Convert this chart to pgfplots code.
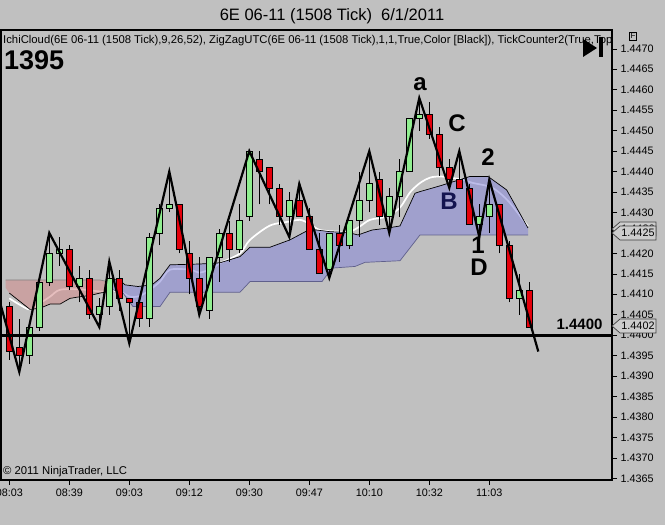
\documentclass[border=0pt]{standalone}
\usepackage{fontspec}
\setmainfont{Liberation Sans}
\usepackage{pgfplots}
\pgfplotsset{compat=1.18}

\definecolor{bg}{RGB}{192,192,192}
\definecolor{cred}{RGB}{228,0,12}
\definecolor{cgreen}{RGB}{144,238,144}
\definecolor{cloudblue}{RGB}{134,134,216}
\definecolor{cloudred}{RGB}{210,138,138}
\definecolor{spanb}{RGB}{96,96,140}
\definecolor{spangray}{RGB}{130,130,130}
\definecolor{navy}{RGB}{20,20,80}
\definecolor{boxgray}{RGB}{205,205,205}

% one candle: index, open, high, low, close
\newcommand\candle[5]{%
  \ifdim#5pt<#2pt \def\cfill{cred}\else\def\cfill{cgreen}\fi
  \pgfmathsetmacro\xl{#1-0.3}\pgfmathsetmacro\xr{#1+0.3}%
  \edef\temp{\noexpand\addplot[black, line width=0.7pt] coordinates {(#1,#4) (#1,#3)};
    \noexpand\addplot[draw=black, line width=0.7pt, fill=\cfill]
      coordinates {(\xl,#2) (\xr,#2) (\xr,#5) (\xl,#5)} -- cycle;}%
  \temp}

\begin{document}
\begin{tikzpicture}[x=1pt,y=1pt]
\fill[bg] (0,0) rectangle (665,525);
\begin{axis}[
    scale only axis,
    width=611pt, height=450pt,
    at={(1pt,45pt)}, anchor=south west,
    xmin=-0.83, xmax=60.27,
    ymin=1.43646, ymax=1.44746,
    axis background/.style={fill=bg},
    axis line style={black, line width=1.2pt},
    tick align=outside,
    major tick length=5pt,
    tick style={black, line width=0.6pt},
    xtick={0,6,12,18,24,30,36,42,48},
    xticklabels={08:03,08:39,09:03,09:12,09:30,09:47,10:10,10:32,11:03},
    xtick pos=bottom,
    ytick={1.4365,1.4370,1.4375,1.4380,1.4385,1.4390,1.4395,1.4400,1.4405,1.4410,1.4415,1.4420,1.4425,1.4430,1.4435,1.4440,1.4445,1.4450,1.4455,1.4460,1.4465,1.4470},
    ytick pos=right,
    yticklabel pos=right,
    /pgf/number format/assume math mode=true,
    yticklabel style={/pgf/number format/fixed, /pgf/number format/fixed zerofill,
      /pgf/number format/precision=4, anchor=west,
      font=\fontsize{10.8}{12}\selectfont},
    xticklabel style={font=\fontsize{10.8}{12}\selectfont},
]

% white line
\addplot[white, line width=1.7pt, smooth] coordinates {
 (0,1.44090) (1.07,1.44074) (2.07,1.44063) (3.07,1.44078) (4.07,1.44094) (5.07,1.44111)
 (7.07,1.44112) (9.07,1.44107) (10.07,1.44109) (11.07,1.44107) (12.07,1.44094) (13.07,1.44096)
 (14.07,1.44111) (15.07,1.44131) (16.07,1.44160) (18.07,1.44160) (19.07,1.44153) (20.37,1.44164)
 (21.07,1.44176) (23.07,1.44200) (24.07,1.44233) (26.07,1.44268) (28.07,1.44278) (29.07,1.44282)
 (30.07,1.44272) (31.07,1.44257) (33.07,1.44253) (34.07,1.44253) (35.07,1.44266) (36.07,1.44282)
 (37.74,1.44290) (39.07,1.44312) (40.07,1.44349) (41.07,1.44372) (42.07,1.44385) (43.07,1.44388)
 (44.37,1.44384) (45.37,1.44380) (46.37,1.44372) (48.07,1.44363) (49.07,1.44347) (50.07,1.44323)
 (51.37,1.44282) (51.87,1.44266)
};

% red cloud
\addplot[draw=none, fill=cloudred, fill opacity=0.55] coordinates {
 (-0.37,1.44135) (9.07,1.44135) (10.37,1.44128) (10.37,1.44108) (9.07,1.44103) (8.07,1.44097)
 (7.07,1.44094) (6.07,1.44090) (5.07,1.44076) (4.07,1.44076) (3.07,1.44066) (2.07,1.44063)
 (0,1.44103) (-0.37,1.44116)
} -- cycle;
% blue cloud
\addplot[draw=none, fill=cloudblue, fill opacity=0.55] coordinates {
 (10.37,1.44135) (10.97,1.44136) (11.57,1.44123) (12.87,1.44119) (14.27,1.44123) (15.07,1.44139)
 (16.07,1.44172) (19.07,1.44174) (21.07,1.44177) (23.07,1.44192) (24.07,1.44215) (26.07,1.44215)
 (28.07,1.44233) (30.07,1.44259) (32.07,1.44253) (33.87,1.44251) (34.87,1.44245) (36.27,1.44257)
 (37.87,1.44262) (39.07,1.44267) (40.57,1.44347) (41.07,1.44351) (43.07,1.44365) (46.07,1.44388)
 (47.87,1.44388) (49.74,1.44355) (51.87,1.44262)
 (51.87,1.44245) (41.07,1.44245) (39.07,1.44182) (35.57,1.44178) (34.57,1.44168) (32.27,1.44164)
 (31.27,1.44131) (24.07,1.44131) (23.07,1.44105) (16.07,1.44105) (15.07,1.44070) (12.37,1.44070)
 (11.37,1.44103) (10.37,1.44111)
} -- cycle;

% cloud edges
\addplot[spangray, line width=0.8pt] coordinates {(-0.37,1.44135) (9.07,1.44135) (10.37,1.44128)};
\addplot[black, line width=0.7pt] coordinates {
 (0,1.44103) (2.07,1.44063) (3.07,1.44066) (4.07,1.44076) (5.07,1.44076) (6.07,1.44090)
 (7.07,1.44094) (8.07,1.44097) (9.07,1.44103) (10.37,1.44108)};
\addplot[black, line width=0.7pt] coordinates {
 (10.37,1.44135) (10.97,1.44136) (11.57,1.44123) (12.87,1.44119) (14.27,1.44123) (15.07,1.44139)
 (16.07,1.44172) (19.07,1.44174) (21.07,1.44177) (23.07,1.44192) (24.07,1.44215) (26.07,1.44215)
 (28.07,1.44233) (30.07,1.44259) (32.07,1.44253) (33.87,1.44251) (34.87,1.44245) (36.27,1.44257)
 (37.87,1.44262) (39.07,1.44267) (40.57,1.44347) (41.07,1.44351) (43.07,1.44365) (46.07,1.44388)
 (47.87,1.44388) (49.74,1.44355) (51.87,1.44262)};
\addplot[spanb, line width=0.7pt] coordinates {
 (51.87,1.44245) (41.07,1.44245) (39.07,1.44182) (35.57,1.44178) (34.57,1.44168) (32.27,1.44164)
 (31.27,1.44131) (24.07,1.44131) (23.07,1.44105) (16.07,1.44105) (15.07,1.44070) (12.37,1.44070)
 (11.37,1.44103) (10.37,1.44111)};

% candles: index, open, high, low, close
\candle{0}{1.4407}{1.4408}{1.4394}{1.4396}
\candle{1}{1.4397}{1.4404}{1.4391}{1.4395}
\candle{2}{1.4395}{1.4402}{1.4393}{1.4402}
\candle{3}{1.4402}{1.4413}{1.4401}{1.4413}
\candle{4}{1.4413}{1.4425}{1.4412}{1.4420}
\candle{5}{1.4420}{1.4424}{1.4417}{1.4421}
\candle{6}{1.4421}{1.4422}{1.4411}{1.4412}
\candle{7}{1.4412}{1.4417}{1.4408}{1.4414}
\candle{8}{1.4414}{1.4416}{1.4404}{1.4405}
\candle{9}{1.4405}{1.4409}{1.4402}{1.4407}
\candle{10}{1.4407}{1.4418}{1.4405}{1.4414}
\candle{11}{1.4414}{1.4416}{1.4406}{1.4409}
\candle{12}{1.4409}{1.4409}{1.4398}{1.4408}
\candle{13}{1.4408}{1.4409}{1.4402}{1.4404}
\candle{14}{1.4404}{1.4425}{1.4402}{1.4424}
\candle{15}{1.4425}{1.4432}{1.4422}{1.4431}
\candle{16}{1.4431}{1.4440}{1.4430}{1.4432}
\candle{17}{1.4432}{1.4432}{1.4420}{1.4421}
\candle{18}{1.4420}{1.4423}{1.4410}{1.4414}
\candle{19}{1.4414}{1.4419}{1.4405}{1.4407}
\candle{20}{1.4406}{1.4419}{1.4404}{1.4419}
\candle{21}{1.4419}{1.4426}{1.4413}{1.4425}
\candle{22}{1.4425}{1.4428}{1.4418}{1.4421}
\candle{23}{1.4421}{1.4432}{1.4420}{1.4428}
\candle{24}{1.4429}{1.4445}{1.4428}{1.4445}
\candle{25}{1.4443}{1.4445}{1.4432}{1.4440}
\candle{26}{1.4441}{1.4441}{1.4432}{1.4436}
\candle{27}{1.4436}{1.4437}{1.4427}{1.4429}
\candle{28}{1.4429}{1.4435}{1.4424}{1.4433}
\candle{29}{1.4433}{1.4437}{1.4429}{1.4429}
\candle{30}{1.4429}{1.4431}{1.4421}{1.4421}
\candle{31}{1.4421}{1.4425}{1.4415}{1.4415}
\candle{32}{1.4416}{1.4425}{1.4414}{1.4425}
\candle{33}{1.4425}{1.4427}{1.4418}{1.4422}
\candle{34}{1.4422}{1.4428}{1.4421}{1.4428}
\candle{35}{1.4428}{1.4440}{1.4424}{1.4433}
\candle{36}{1.4433}{1.4445}{1.4430}{1.4437}
\candle{37}{1.4438}{1.4440}{1.4427}{1.4429}
\candle{38}{1.4429}{1.4436}{1.4425}{1.4434}
\candle{39}{1.4434}{1.4443}{1.4429}{1.4440}
\candle{40}{1.4440}{1.4453}{1.4440}{1.4453}
\candle{41}{1.4453}{1.4458}{1.4450}{1.4454}
\candle{42}{1.4454}{1.4457}{1.4448}{1.4449}
\candle{43}{1.4449}{1.4451}{1.4439}{1.4441}
\candle{44}{1.4441}{1.4443}{1.4436}{1.4438}
\candle{45}{1.4438}{1.4445}{1.4436}{1.4436}
\candle{46}{1.4436}{1.4437}{1.4427}{1.4427}
\candle{47}{1.4427}{1.4432}{1.4424}{1.4429}
\candle{48}{1.4429}{1.4438}{1.4425}{1.4432}
\candle{49}{1.4432}{1.4432}{1.4420}{1.4422}
\candle{50}{1.4422}{1.4423}{1.4408}{1.4409}
\candle{51}{1.4409}{1.4415}{1.4405}{1.4411}
\candle{52}{1.4411}{1.4413}{1.4402}{1.4402}

% 1.4400 level
\addplot[black, line width=2.8pt] coordinates {(-1,1.4400) (61,1.4400)};

% zigzag
\addplot[black, line width=2.2pt] coordinates {
 (-0.93,1.4408) (1,1.4391) (4,1.4425) (9,1.4402) (10,1.4418) (12,1.4398) (16,1.4440)
 (19,1.4405) (24,1.4445) (28,1.4424) (29,1.4437) (32,1.4414) (36,1.4445) (38,1.4425)
 (41,1.4458) (44,1.4436) (45,1.4445) (47,1.4424) (48,1.4438) (52.9,1.4396)
};
\end{axis}

% texts
\node[font=\fontsize{16.5}{19}\selectfont] at (332,509) {6E 06-11 (1508 Tick)\ \ 6/1/2011};
\begin{scope}
\clip (2,470) rectangle (611,495);
\node[anchor=west, inner sep=0, font=\fontsize{11.3}{13}\selectfont] at (3,484)
 {IchiCloud(6E 06-11 (1508 Tick),9,26,52), ZigZagUTC(6E 06-11 (1508 Tick),1,1,True,Color [Black]), TickCounter2(True,Top};
\end{scope}
\fill[black] (583,486) -- (583,468) -- (597,477) -- cycle;
\fill[black] (599,488) rectangle (603,468);
\node[draw, inner sep=1pt, font=\fontsize{8}{9}\selectfont] at (633,489) {F};
\node[anchor=west, inner sep=0, font=\bfseries\fontsize{27}{30}\selectfont] at (4,465) {1395};

\node[font=\bfseries\fontsize{24}{26}\selectfont] at (420,441) {a};
\node[font=\bfseries\fontsize{24}{26}\selectfont] at (457,402) {C};
\node[font=\bfseries\fontsize{24}{26}\selectfont] at (488,368) {2};
\node[text=navy, font=\bfseries\fontsize{24}{26}\selectfont] at (449,324) {B};
\node[font=\bfseries\fontsize{24}{26}\selectfont] at (478,280) {1};
\node[font=\bfseries\fontsize{24}{26}\selectfont] at (479,258) {D};

\node[anchor=east, font=\bfseries\fontsize{15}{17}\selectfont] at (606,201) {1.4400};

% price markers
\filldraw[fill=boxgray, draw=black!75, line width=0.7pt]
 (612,296) -- (620,303) -- (656,303) -- (656,289) -- (620,289) -- cycle;
\node[font=\fontsize{10.8}{12}\selectfont] at (638,296) {1.4426};
\filldraw[fill=boxgray, draw=black!75, line width=0.7pt]
 (612,292) -- (620,299) -- (656,299) -- (656,285) -- (620,285) -- cycle;
\node[font=\fontsize{10.8}{12}\selectfont] at (638,292) {1.4425};
\filldraw[fill=boxgray, draw=black!75, line width=0.7pt]
 (612,199) -- (620,206) -- (656,206) -- (656,192) -- (620,192) -- cycle;
\node[font=\fontsize{10.8}{12}\selectfont] at (638,199) {1.4402};

\node[anchor=west, inner sep=0, font=\fontsize{11.3}{13}\selectfont] at (3,53) {\textcopyright{} 2011 NinjaTrader, LLC};

\pgfresetboundingbox
\useasboundingbox (0,0) rectangle (665,525);
\end{tikzpicture}
\end{document}
